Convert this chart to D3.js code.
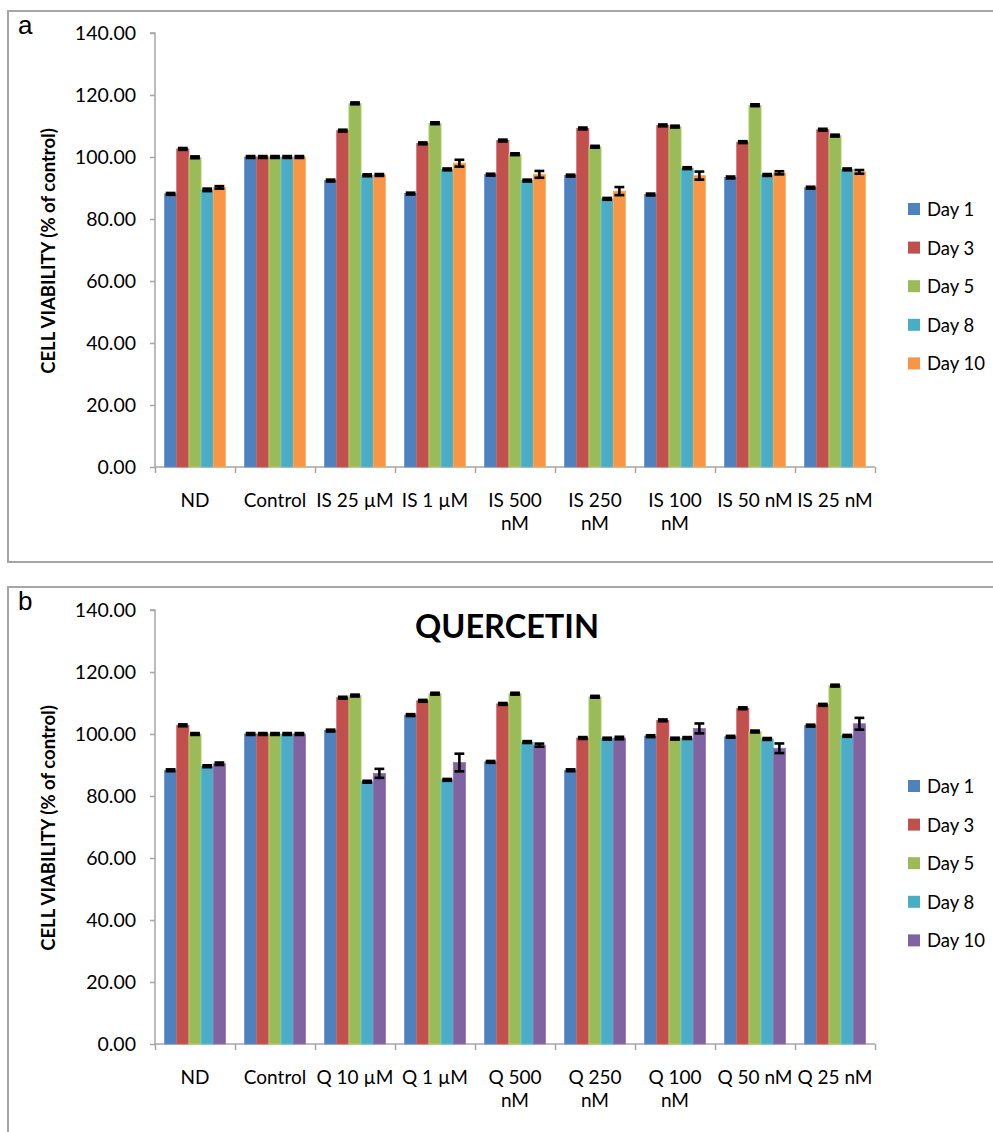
<!DOCTYPE html>
<html><head><meta charset="utf-8">
<script src="https://cdn.jsdelivr.net/npm/d3@7"></script>
<style>body{margin:0;background:#fff}svg{display:block}</style>
</head><body><svg id="c" width="993" height="1132"></svg>
<script>
const series = ["Day 1", "Day 3", "Day 5", "Day 8", "Day 10"];
const catsA = [["ND"], ["Control"], ["IS 25 µM"], ["IS 1 µM"], ["IS 500", "nM"], ["IS 250", "nM"], ["IS 100", "nM"], ["IS 50 nM"], ["IS 25 nM"]];
const catsB = [["ND"], ["Control"], ["Q 10 µM"], ["Q 1 µM"], ["Q 500", "nM"], ["Q 250", "nM"], ["Q 100", "nM"], ["Q 50 nM"], ["Q 25 nM"]];
// values per category: [Day1, Day3, Day5, Day8, Day10]
const valuesA = [
  [88.1, 102.6, 99.9, 89.4, 90.2],
  [100, 100, 100, 100, 100],
  [92.4, 108.5, 117.3, 94.1, 94.2],
  [88.2, 104.4, 110.9, 96.0, 98.0],
  [94.3, 105.3, 100.9, 92.4, 94.4],
  [94.0, 109.2, 103.3, 86.5, 89.0],
  [87.9, 110.2, 109.8, 96.4, 94.0],
  [93.4, 104.8, 116.7, 94.2, 94.9],
  [90.1, 108.8, 106.9, 96.0, 95.2]
];
const errorsA = [
  [0.3, 0.3, 0.3, 0.4, 0.4],
  [0.3, 0.3, 0.3, 0.3, 0.3],
  [0.3, 0.3, 0.3, 0.3, 0.3],
  [0.3, 0.3, 0.3, 0.3, 1.1],
  [0.3, 0.3, 0.3, 0.3, 1.1],
  [0.3, 0.3, 0.3, 0.3, 1.3],
  [0.3, 0.3, 0.3, 0.3, 1.3],
  [0.3, 0.3, 0.3, 0.3, 0.5],
  [0.3, 0.3, 0.3, 0.3, 0.6]
];
const valuesB = [
  [88.3, 102.8, 100.0, 89.6, 90.4],
  [100, 100, 100, 100, 100],
  [101.1, 111.7, 112.4, 84.6, 87.3],
  [106.1, 110.7, 113.0, 85.2, 90.8],
  [91.0, 109.7, 113.0, 97.4, 96.4],
  [88.3, 98.7, 112.0, 98.5, 98.7],
  [99.3, 104.4, 98.5, 98.7, 101.8],
  [99.1, 108.3, 100.8, 98.4, 95.4],
  [102.7, 109.4, 115.6, 99.4, 103.3]
];
const errorsB = [
  [0.3, 0.3, 0.3, 0.3, 0.4],
  [0.3, 0.3, 0.3, 0.3, 0.3],
  [0.3, 0.3, 0.3, 0.3, 1.45],
  [0.3, 0.3, 0.3, 0.3, 2.85],
  [0.3, 0.3, 0.3, 0.3, 0.5],
  [0.3, 0.3, 0.3, 0.3, 0.4],
  [0.3, 0.3, 0.3, 0.3, 1.6],
  [0.3, 0.3, 0.3, 0.3, 1.55],
  [0.3, 0.3, 0.3, 0.3, 1.9]
];
const yTicks = [0, 20, 40, 60, 80, 100, 120, 140];
const colorsA = ["#4F81BD", "#C0504D", "#9BBB59", "#4BACC6", "#F79646"];
const colorsB = ["#4F81BD", "#C0504D", "#9BBB59", "#4BACC6", "#8064A2"];

const svg = d3.select("#c");
const FONT = "Lato, 'Open Sans', sans-serif";

function panel(opt) {
  const g = svg.append("g");
  g.append("rect").attr("x", 8).attr("y", opt.boxTop).attr("width", 1000).attr("height", opt.boxH)
    .attr("fill", "none").attr("stroke", "#a6a6a6").attr("stroke-width", 2);
  g.append("text").attr("x", 18).attr("y", opt.boxTop + 23).text(opt.letter)
    .attr("font-family", "'Liberation Sans', Arial, sans-serif").attr("font-size", 26).attr("fill", "#000");

  const y = d3.scaleLinear().domain([0, 140]).range([opt.y0, opt.y0 - 434]);
  const idx = d3.range(opt.cats.length);
  const x = d3.scaleBand().domain(idx).range([155, 875]).paddingInner(0.238).paddingOuter(0.119);
  const xs = d3.scaleBand().domain(d3.range(series.length)).range([0, x.bandwidth()]);

  // y axis
  const ya = g.append("g").attr("transform", "translate(155,0)")
    .call(d3.axisLeft(y).tickValues(yTicks).tickSize(5).tickPadding(14).tickFormat(d3.format(".2f")));
  ya.select(".domain").attr("stroke", "#a6a6a6").attr("stroke-width", 1.5).attr("d", `M-5,${y(140)}H0V${y(0)}`);
  ya.selectAll(".tick line").attr("stroke", "#a6a6a6").attr("stroke-width", 1.5);
  ya.selectAll(".tick text").attr("font-family", FONT).attr("font-size", 19.5).attr("fill", "#000");

  // x axis with ticks between groups
  const xa = d3.scaleLinear().domain([0, opt.cats.length]).range([155, 875]);
  const xg = g.append("g").attr("transform", `translate(0,${opt.y0})`)
    .call(d3.axisBottom(xa).tickValues(d3.range(opt.cats.length + 1)).tickSize(6).tickFormat(""));
  xg.select(".domain").attr("stroke", "#a6a6a6").attr("stroke-width", 1.5).attr("d", `M155,0H875`);
  xg.selectAll(".tick line").attr("stroke", "#a6a6a6").attr("stroke-width", 1.5);

  // category labels
  idx.forEach(i => {
    const t = g.append("text").attr("x", x(i) + x.bandwidth() / 2).attr("y", opt.y0 + 40)
      .attr("text-anchor", "middle").attr("font-family", FONT).attr("font-size", 19).attr("fill", "#000");
    opt.cats[i].forEach((ln, k) => t.append("tspan").attr("x", x(i) + x.bandwidth() / 2).attr("dy", k ? 23 : 0).text(ln));
  });

  // bars
  idx.forEach(i => {
    series.forEach((s, j) => {
      const v = opt.values[i][j];
      const bx = x(i) + xs(j);
      g.append("rect").attr("x", bx).attr("y", y(v)).attr("width", xs.bandwidth()).attr("height", y(0) - y(v))
        .attr("fill", opt.colors[j]).attr("stroke", d3.color(opt.colors[j]).brighter(0.4)).attr("stroke-width", 0.8);
    });
  });
  // error bars
  idx.forEach(i => {
    series.forEach((s, j) => {
      const v = opt.values[i][j], e = opt.errors[i][j];
      const cx = x(i) + xs(j) + xs.bandwidth() / 2;
      const hw = xs.bandwidth() / 2 - 1.2;
      const eb = g.append("g").attr("stroke", "#000").attr("stroke-width", 2.6);
      eb.append("line").attr("x1", cx).attr("x2", cx).attr("y1", y(v - e)).attr("y2", y(v + e));
      eb.append("line").attr("x1", cx - hw).attr("x2", cx + hw).attr("y1", y(v - e)).attr("y2", y(v - e));
      eb.append("line").attr("x1", cx - hw).attr("x2", cx + hw).attr("y1", y(v + e)).attr("y2", y(v + e));
    });
  });

  // y title
  g.append("text").attr("transform", `translate(55,${opt.y0 - 216}) rotate(-90)`).attr("text-anchor", "middle")
    .attr("font-family", FONT).attr("font-weight", "bold").attr("font-size", 18.5).attr("fill", "#000")
    .text("CELL VIABILITY (% of control)");

  if (opt.title) {
    g.append("text").attr("x", 507).attr("y", opt.boxTop + 51).attr("text-anchor", "middle")
      .attr("font-family", FONT).attr("font-weight", "bold").attr("font-size", 32.5).attr("fill", "#000").text(opt.title);
  }

  // legend
  series.forEach((s, j) => {
    const ly = opt.legTop + j * 38.6;
    g.append("rect").attr("x", 908).attr("y", ly - 6).attr("width", 12).attr("height", 12).attr("fill", opt.colors[j]);
    g.append("text").attr("x", 927).attr("y", ly + 7).attr("font-family", FONT).attr("font-size", 18.5)
      .attr("fill", "#000").text(s);
  });
}

panel({ letter: "a", boxTop: 11, boxH: 551, y0: 467, cats: catsA, values: valuesA, errors: errorsA, colors: colorsA, legTop: 209 });
panel({ letter: "b", boxTop: 587, boxH: 560, y0: 1044, cats: catsB, values: valuesB, errors: errorsB, colors: colorsB, legTop: 786, title: "QUERCETIN" });
</script></body></html>
